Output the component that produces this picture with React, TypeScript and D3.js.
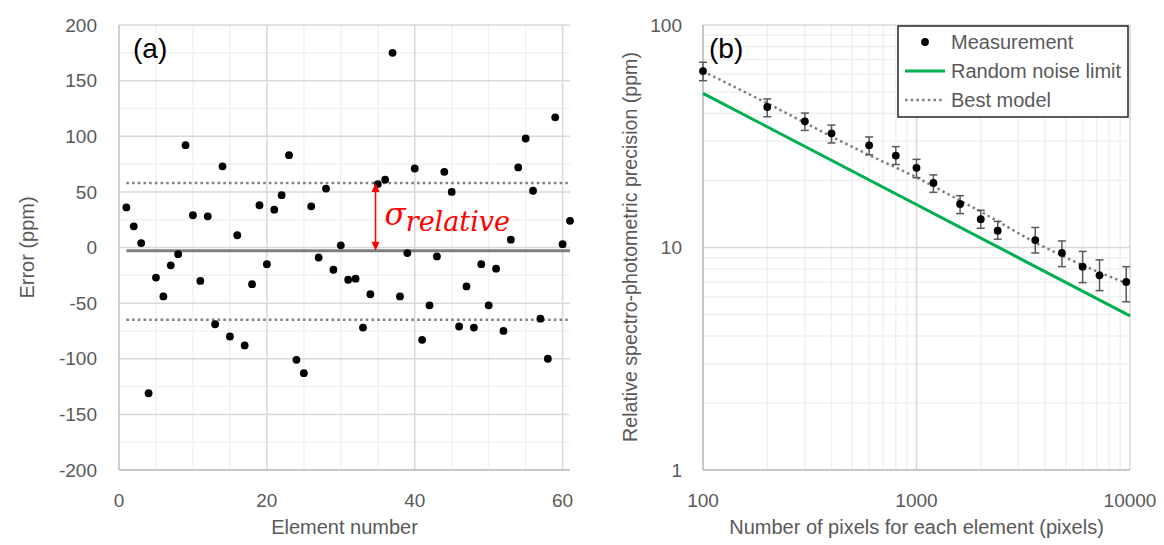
import React from 'react';
import * as d3 from 'd3';

// panel (a): error of each element
const elementValues = [36, 19, 4, -131, -27, -44, -16, -6, 92, 29, -30, 28, -69, 73, -80, 11, -88, -33, 38, -15,
  34, 47, 83, -101, -113, 37, -9, 53, -20, 2, -29, -28, -72, -42, 57, 61, 175, -44, -5, 71,
  -83, -52, -8, 68, 50, -71, -35, -72, -15, -52, -19, -75, 7, 72, 98, 51, -64, -100, 117, 3, 24];
const meanError = -3;
const sigmaUpper = 58;
const sigmaLower = -65;
const sigmaArrowAt = 34.7;
const errorTicks = [-200, -150, -100, -50, 0, 50, 100, 150, 200];
const elementTicks = [0, 20, 40, 60];

// panel (b): precision vs pixels
const pixelCounts = [100, 200, 300, 400, 600, 800, 1000, 1200, 1600, 2000, 2400, 3600, 4800, 6000, 7200, 9600];
const precision = [62.1, 42.8, 36.9, 32.6, 28.8, 25.9, 22.8, 19.5, 15.7, 13.4, 11.9, 10.8, 9.45, 8.2, 7.5, 7.0];
const precisionHigh = [68, 46.5, 40.2, 35.5, 31.4, 28.4, 24.9, 21.2, 17.1, 14.7, 13.1, 12.3, 10.7, 9.6, 8.8, 8.2];
const precisionLow = [56.2, 38.7, 33.6, 29.5, 26.1, 23.6, 20.6, 17.7, 14.2, 12.2, 10.9, 9.45, 8.2, 6.95, 6.4, 5.7];
const noiseX = [100, 10000];
const noiseY = [49.3, 4.93];
const modelX = [100, 200, 400, 600, 1000, 2000, 3600, 6000, 10000];
const modelY = [62, 44.5, 31.5, 26, 20.7, 14.5, 10.5, 8.3, 6.8];
const pixelTicks = [100, 1000, 10000];
const precisionTicks = [1, 10, 100];

const FONT = '"Liberation Sans", Arial, sans-serif';
const GREY = '#595959';

const App = () => {
  // scales for (a)
  const xA = d3.scaleLinear().domain([0, 61]).range([119, 570]);
  const yA = d3.scaleLinear().domain([-200, 200]).range([470, 25]);
  // scales for (b)
  const xB = d3.scaleLog().domain([100, 10000]).range([703, 1130]);
  const yB = d3.scaleLog().domain([1, 100]).range([470, 25]);

  const minorA = d3.range(-200, 201, 25).filter(v => v % 50 !== 0);
  const vMinorA = d3.range(5, 61, 5).filter(v => v % 20 !== 0);

  const decadesMinor = (lo: number, hi: number) => {
    const out: number[] = [];
    for (let d = lo; d < hi; d *= 10) for (let k = 2; k <= 9; k++) out.push(d * k);
    return out;
  };
  const minorBX = decadesMinor(100, 10000);
  const minorBY = decadesMinor(1, 100);

  const noiseLine = d3.line<number>().x((d, i) => xB(noiseX[i])).y(d => yB(d));
  const modelLine = d3.line<number>().x((d, i) => xB(modelX[i])).y(d => yB(d));

  const arrowX = xA(sigmaArrowAt);
  const arrowTop = yA(sigmaUpper);
  const arrowBot = yA(meanError);

  return (
    <div style={{ position: 'absolute', left: 0, top: 0 }}>
      <svg width={1164} height={545} style={{ display: 'block', background: '#fff' }}>
        {/* ---------- panel (a) ---------- */}
        <g>
          {minorA.map(v => (
            <line key={'ha' + v} x1={xA(0)} x2={xA(61)} y1={yA(v)} y2={yA(v)} stroke="#f2f2f2" strokeWidth={1.5} />
          ))}
          {vMinorA.map(v => (
            <line key={'va' + v} x1={xA(v)} x2={xA(v)} y1={yA(-200)} y2={yA(200)} stroke="#f2f2f2" strokeWidth={1.5} />
          ))}
          {errorTicks.map(v => (
            <line key={'hA' + v} x1={xA(0)} x2={xA(61)} y1={yA(v)} y2={yA(v)} stroke="#d9d9d9" strokeWidth={1.5} />
          ))}
          {elementTicks.slice(1).map(v => (
            <line key={'vA' + v} x1={xA(v)} x2={xA(v)} y1={yA(-200)} y2={yA(200)} stroke="#d9d9d9" strokeWidth={1.5} />
          ))}
          <line x1={xA(0)} x2={xA(0)} y1={yA(-200)} y2={yA(200)} stroke="#bfbfbf" strokeWidth={1.5} />
          <line x1={xA(0)} x2={xA(61)} y1={yA(-200)} y2={yA(-200)} stroke="#bfbfbf" strokeWidth={1.5} />

          {/* mean and +/- sigma lines */}
          <line x1={xA(1)} x2={xA(61)} y1={yA(meanError)} y2={yA(meanError)} stroke="#7f7f7f" strokeWidth={3} />
          {[sigmaUpper, sigmaLower].map(v => (
            <line key={'s' + v} x1={xA(1)} x2={xA(61)} y1={yA(v)} y2={yA(v)} stroke="#7f7f7f"
              strokeWidth={2.5} strokeDasharray="2.5 3.2" />
          ))}

          {elementValues.map((v, i) => (
            <circle key={'p' + i} cx={xA(i + 1)} cy={yA(v)} r={3.9} fill="#000" />
          ))}

          {/* sigma arrow */}
          <line x1={arrowX} x2={arrowX} y1={arrowTop + 8} y2={arrowBot - 8} stroke="#ff0000" strokeWidth={1.5} />
          <path d={`M${arrowX},${arrowTop} l-4,9 l8,0 z`} fill="#ff0000" />
          <path d={`M${arrowX},${arrowBot} l-4,-9 l8,0 z`} fill="#ff0000" />
          <text x={arrowX + 9} y={yA(20)} fill="#ff0000" fontFamily='"DejaVu Serif", serif' fontStyle="italic">
            <tspan fontSize={31}>σ</tspan>
            <tspan fontSize={27} dy={6}>relative</tspan>
          </text>

          {errorTicks.map(v => (
            <text key={'ta' + v} x={97} y={yA(v)} dy="0.35em" textAnchor="end" fontFamily={FONT} fontSize={19} fill={GREY}>{v}</text>
          ))}
          {elementTicks.map(v => (
            <text key={'tx' + v} x={xA(v)} y={500} dy="0.35em" textAnchor="middle" fontFamily={FONT} fontSize={19} fill={GREY}>{v}</text>
          ))}
          <text x={(xA(0) + xA(61)) / 2} y={527} dy="0.35em" textAnchor="middle" fontFamily={FONT} fontSize={20} fill={GREY}>Element number</text>
          <text transform={`translate(27,${yA(0)}) rotate(-90)`} textAnchor="middle" dy="0.35em" fontFamily={FONT} fontSize={20} fill={GREY}>Error (ppm)</text>
          <text x={133} y={58} fontFamily={FONT} fontSize={28} fill="#000">(a)</text>
        </g>

        {/* ---------- panel (b) ---------- */}
        <g>
          {minorBY.map(v => (
            <line key={'hb' + v} x1={xB(100)} x2={xB(10000)} y1={yB(v)} y2={yB(v)} stroke="#f0f0f0" strokeWidth={1.5} />
          ))}
          {minorBX.map(v => (
            <line key={'vb' + v} x1={xB(v)} x2={xB(v)} y1={yB(1)} y2={yB(100)} stroke="#f0f0f0" strokeWidth={1.5} />
          ))}
          {precisionTicks.map(v => (
            <line key={'hB' + v} x1={xB(100)} x2={xB(10000)} y1={yB(v)} y2={yB(v)} stroke="#d9d9d9" strokeWidth={1.5} />
          ))}
          {pixelTicks.map(v => (
            <line key={'vB' + v} x1={xB(v)} x2={xB(v)} y1={yB(1)} y2={yB(100)} stroke="#d9d9d9" strokeWidth={1.5} />
          ))}
          <line x1={xB(100)} x2={xB(100)} y1={yB(1)} y2={yB(100)} stroke="#bfbfbf" strokeWidth={1.5} />
          <line x1={xB(100)} x2={xB(10000)} y1={yB(1)} y2={yB(1)} stroke="#bfbfbf" strokeWidth={1.5} />

          <path d={noiseLine(noiseY) || ''} fill="none" stroke="#00b050" strokeWidth={3} />
          <path d={modelLine(modelY) || ''} fill="none" stroke="#7f7f7f" strokeWidth={2.5} strokeDasharray="2.5 3.2" />

          {pixelCounts.map((n, i) => (
            <g key={'m' + n} stroke="#595959" strokeWidth={1.5}>
              <line x1={xB(n)} x2={xB(n)} y1={yB(precisionHigh[i])} y2={yB(precisionLow[i])} />
              <line x1={xB(n) - 4} x2={xB(n) + 4} y1={yB(precisionHigh[i])} y2={yB(precisionHigh[i])} />
              <line x1={xB(n) - 4} x2={xB(n) + 4} y1={yB(precisionLow[i])} y2={yB(precisionLow[i])} />
            </g>
          ))}
          {pixelCounts.map((n, i) => (
            <circle key={'c' + n} cx={xB(n)} cy={yB(precision[i])} r={3.9} fill="#000" />
          ))}

          {precisionTicks.map(v => (
            <text key={'tb' + v} x={682} y={yB(v)} dy="0.35em" textAnchor="end" fontFamily={FONT} fontSize={19} fill={GREY}>{v}</text>
          ))}
          {pixelTicks.map(v => (
            <text key={'tbx' + v} x={xB(v)} y={500} dy="0.35em" textAnchor="middle" fontFamily={FONT} fontSize={19} fill={GREY}>{v}</text>
          ))}
          <text x={(xB(100) + xB(10000)) / 2} y={527} dy="0.35em" textAnchor="middle" fontFamily={FONT} fontSize={20} fill={GREY}>
            Number of pixels for each element (pixels)
          </text>
          <text transform={`translate(630,247) rotate(-90)`} textAnchor="middle" dy="0.35em" fontFamily={FONT} fontSize={19.6} fill={GREY}>
            Relative spectro-photometric precision (ppm)
          </text>
          <text x={709} y={58} fontFamily={FONT} fontSize={28} fill="#000">(b)</text>

          {/* legend */}
          <rect x={898} y={26} width={230} height={91} fill="#fff" stroke="#262626" strokeWidth={1.5} />
          <circle cx={925} cy={42} r={3.9} fill="#000" />
          <line x1={905} x2={945} y1={71} y2={71} stroke="#00b050" strokeWidth={3} />
          <line x1={905} x2={945} y1={100} y2={100} stroke="#7f7f7f" strokeWidth={2.5} strokeDasharray="2.5 3.2" />
          {['Measurement', 'Random noise limit', 'Best model'].map((t, i) => (
            <text key={t} x={951} y={42 + i * 29} dy="0.35em" fontFamily={FONT} fontSize={20} fill={GREY}>{t}</text>
          ))}
        </g>
      </svg>
    </div>
  );
};

export default App;
